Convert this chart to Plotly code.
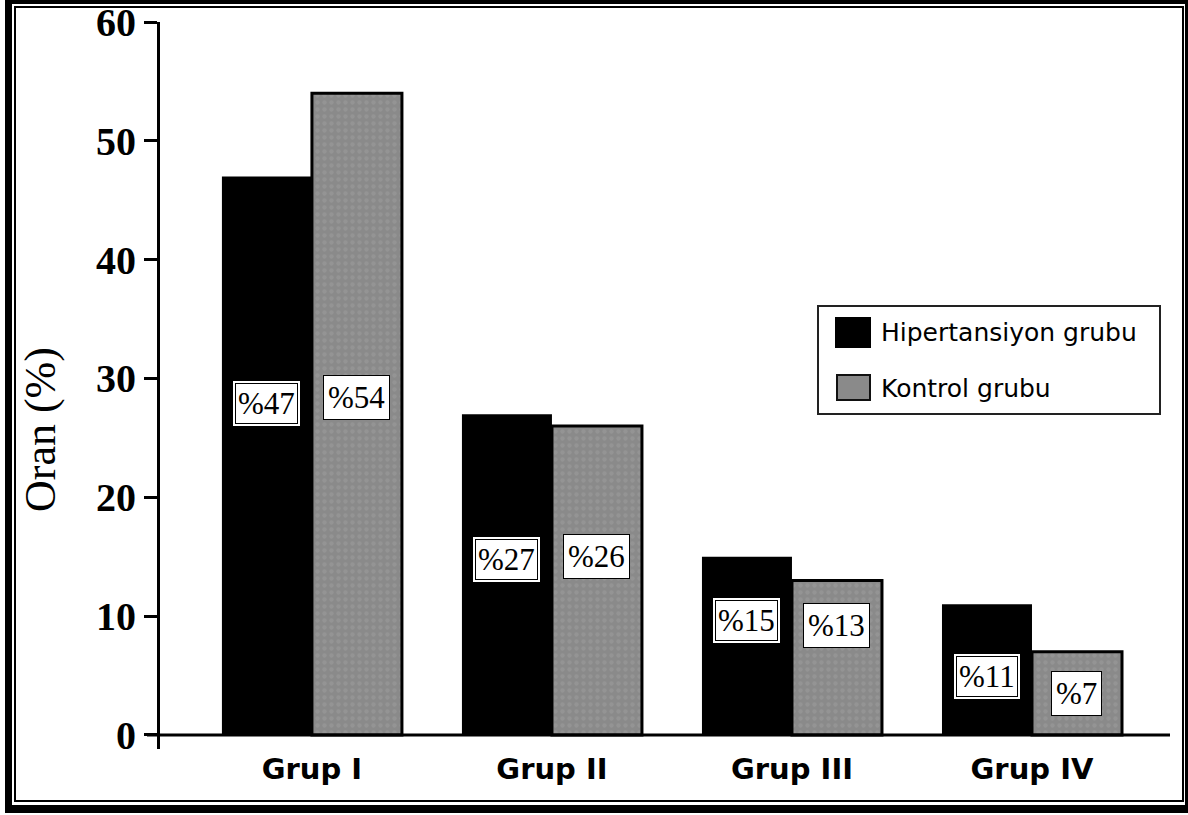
import plotly.graph_objects as go

# Data
categories = ["Grup I", "Grup II", "Grup III", "Grup IV"]
hipertansiyon = [47, 27, 15, 11]
kontrol = [54, 26, 13, 7]
series_names = ["Hipertansiyon grubu", "Kontrol grubu"]

# heights (axis units) where the value boxes sit inside the bars
hip_label_y = [27.9, 14.8, 9.6, 4.9]
kon_label_y = [28.4, 15.0, 9.2, 3.5]

W, H = 1188, 815
ML, MR, MT, MB = 160, 18, 22, 66
PW, PH = W - ML - MR, H - MT - MB


def px(x):
    return (x - ML) / PW


def py(y):
    return (H - MB - y) / PH


SERIF = "Liberation Serif, Times New Roman, serif"
SANS = "DejaVu Sans, Verdana, sans-serif"
GRAY = "#8a8a8a"
LABEL_SIZE = 31

fig = go.Figure()
fig.add_trace(go.Bar(
    name=series_names[0], x=categories, y=hipertansiyon,
    marker=dict(color="#000000", line=dict(width=0)),
    showlegend=False, hoverinfo="skip",
))
fig.add_trace(go.Bar(
    name=series_names[1], x=categories, y=kontrol,
    marker=dict(
        color=GRAY,
        line=dict(width=3, color="#000000"),
        pattern=dict(shape=".", bgcolor=GRAY, fgcolor="#9e9e9e",
                     size=7, solidity=0.3),
    ),
    showlegend=False, hoverinfo="skip",
))

shapes = []
annotations = []

# x axis baseline crossing the y axis
shapes.append(dict(type="line", xref="paper", yref="y",
                   x0=px(147), x1=px(1170), y0=0, y1=0,
                   line=dict(color="#000000", width=3)))

# value boxes
off = 0.1875
for i in range(len(categories)):
    t = "%" + str(hipertansiyon[i])
    # outer frame of the double border
    annotations.append(dict(x=i - off, y=hip_label_y[i], xref="x", yref="y",
                            text=t, showarrow=False,
                            xanchor="center", yanchor="middle",
                            font=dict(family=SERIF, size=LABEL_SIZE, color="#ffffff"),
                            bgcolor="#ffffff", bordercolor="#000000",
                            borderwidth=1, borderpad=5))
    annotations.append(dict(x=i - off, y=hip_label_y[i], xref="x", yref="y",
                            text=t, showarrow=False,
                            xanchor="center", yanchor="middle",
                            font=dict(family=SERIF, size=LABEL_SIZE, color="#000000"),
                            bgcolor="#ffffff", bordercolor="#000000",
                            borderwidth=1, borderpad=2))
    annotations.append(dict(x=i + off, y=kon_label_y[i], xref="x", yref="y",
                            text="%" + str(kontrol[i]), showarrow=False,
                            xanchor="center", yanchor="middle",
                            font=dict(family=SERIF, size=LABEL_SIZE, color="#000000"),
                            bgcolor="#ffffff", bordercolor="#000000",
                            borderwidth=1, borderpad=4))

# y axis title
annotations.append(dict(x=px(40), y=py(430), xref="paper", yref="paper",
                        text="Oran (%)", textangle=-90, showarrow=False,
                        xanchor="center", yanchor="middle",
                        font=dict(family=SERIF, size=44, color="#000000")))

# legend box
shapes.append(dict(type="rect", xref="paper", yref="paper",
                   x0=px(818), x1=px(1160), y0=py(414), y1=py(306),
                   line=dict(color="#222222", width=2), fillcolor="rgba(0,0,0,0)"))
shapes.append(dict(type="rect", xref="paper", yref="paper",
                   x0=px(836), x1=px(870), y0=py(347), y1=py(318),
                   line=dict(color="#000000", width=2), fillcolor="#000000"))
shapes.append(dict(type="rect", xref="paper", yref="paper",
                   x0=px(837), x1=px(870), y0=py(400), y1=py(375),
                   line=dict(color="#111111", width=2), fillcolor=GRAY))
annotations.append(dict(x=px(879), y=py(332), xref="paper", yref="paper",
                        text=series_names[0], showarrow=False,
                        xanchor="left", yanchor="middle",
                        font=dict(family=SANS, size=25, color="#000000")))
annotations.append(dict(x=px(879), y=py(388), xref="paper", yref="paper",
                        text=series_names[1], showarrow=False,
                        xanchor="left", yanchor="middle",
                        font=dict(family=SANS, size=25, color="#000000")))

# page frame: thick outer band and thin inner rule
for x0, x1, y0, y1 in [(5, 12, 0, 813), (1185, 1188, 0, 813),
                       (5, 1188, 0, 4), (5, 1188, 805, 813)]:
    shapes.append(dict(type="rect", xref="paper", yref="paper",
                       x0=px(x0), x1=px(x1), y0=py(y1), y1=py(y0),
                       line=dict(width=0), fillcolor="#000000"))
shapes.append(dict(type="rect", xref="paper", yref="paper",
                   x0=px(15), x1=px(1183), y0=py(801), y1=py(7),
                   line=dict(color="#000000", width=2), fillcolor="rgba(0,0,0,0)"))

fig.update_layout(
    width=W, height=H,
    margin=dict(l=ML, r=MR, t=MT, b=MB, autoexpand=False),
    paper_bgcolor="#ffffff", plot_bgcolor="#ffffff",
    barmode="group", bargap=0.25, bargroupgap=0,
    shapes=shapes, annotations=annotations,
    showlegend=False,
    xaxis=dict(
        type="category", range=[-0.633, 3.575], automargin=False,
        showline=False, showgrid=False, zeroline=False, ticks="",
        tickfont=dict(family=SANS, size=29, color="#000000", weight="bold"),
    ),
    yaxis=dict(
        range=[-1.18, 60], tickvals=[0, 10, 20, 30, 40, 50, 60],
        automargin=False,
        showline=True, linewidth=3, linecolor="#000000",
        ticks="outside", ticklen=13, tickwidth=3, tickcolor="#000000",
        showgrid=False, zeroline=False,
        tickfont=dict(family=SERIF, size=40, color="#000000", weight="bold"),
    ),
)

fig.write_html("out.html")
